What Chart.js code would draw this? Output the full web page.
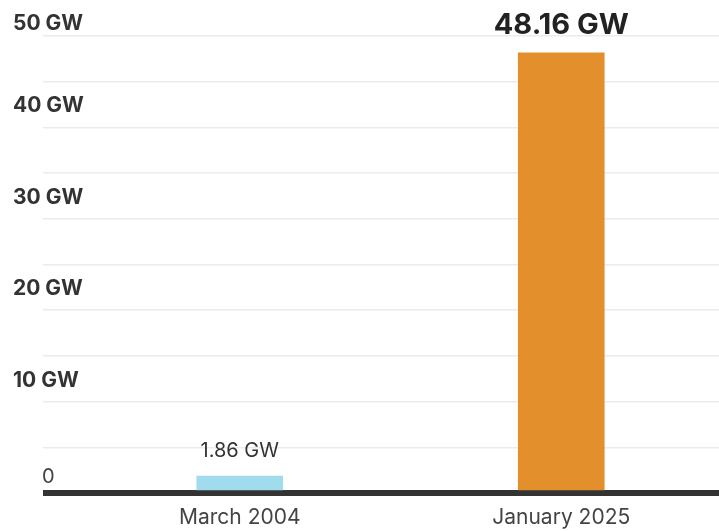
<!DOCTYPE html>
<html><head><meta charset="utf-8">
<script src="https://cdn.jsdelivr.net/npm/chart.js@4/dist/chart.umd.min.js"></script>
<style>html,body{margin:0;padding:0;background:#fff;overflow:hidden;width:719px;height:531px;}</style>
</head><body>
<canvas id="c" width="722" height="531"></canvas>
<script>
const categories = ['March 2004', 'January 2025'];
const capacityGW = [1.86, 48.16];
const valueLabels = ['1.86 GW', '48.16 GW'];
const yTickValues = [0, 10, 20, 30, 40, 50];
const yTickLabels = ['0', '10 GW', '20 GW', '30 GW', '40 GW', '50 GW'];

const FONT = 'Inter';

const labelPlugin = {
  id: 'customLabels',
  afterDraw(chart) {
    const ctx = chart.ctx;
    const ys = chart.scales.y;
    ctx.save();
    ctx.textBaseline = 'alphabetic';
    ctx.textAlign = 'left';
    yTickValues.forEach((v, i) => {
      let by, bx;
      if (v === 0) {
        ctx.font = '400 20px ' + FONT; ctx.fillStyle = '#444';
        by = ys.getPixelForValue(0) - 10; bx = 42;
      } else {
        ctx.font = '700 21px ' + FONT; ctx.fillStyle = '#333';
        by = Math.max(ys.getPixelForValue(v) - 15, 30); bx = 13;
      }
      ctx.fillText(yTickLabels[i], bx, by);
    });
    const meta = chart.getDatasetMeta(0);
    ctx.textAlign = 'center';
    meta.data.forEach((bar, i) => {
      const big = i === 1;
      ctx.font = big ? ('700 29px ' + FONT) : ('400 20px ' + FONT);
      ctx.fillStyle = big ? '#222' : '#333';
      ctx.fillText(valueLabels[i], bar.x, bar.y - 19);
    });
    ctx.restore();
  }
};

new Chart(document.getElementById('c'), {
  type: 'bar',
  data: {
    labels: categories,
    datasets: [{
      data: capacityGW,
      backgroundColor: ['#a0dcee', '#e38f2c'],
      borderWidth: 0,
      barThickness: 86
    }]
  },
  options: {
    responsive: false,
    animation: false,
    devicePixelRatio: 1,
    layout: { padding: { top: 36, right: 0, left: 0, bottom: 0 } },
    plugins: { legend: { display: false }, tooltip: { enabled: false } },
    scales: {
      x: {
        z: 1,
        grid: { display: false, drawTicks: false },
        border: { display: true, width: 6, color: '#333' },
        ticks: { color: '#444', font: { family: FONT, size: 21, weight: '400' }, padding: 12 },
        afterFit(scale) { scale.height = 38; }
      },
      y: {
        min: 0, max: 50,
        border: { display: false },
        ticks: { display: false, stepSize: 5 },
        grid: {
          drawTicks: true,
          tickLength: 36,
          color: (c) => c.tick && c.tick.value === 0 ? '#333' : '#ebebeb',
          lineWidth: (c) => c.tick && c.tick.value === 0 ? 6 : 1.5
        },
        afterFit(scale) { scale.width = 79; }
      }
    }
  },
  plugins: [labelPlugin]
});
</script>
</body></html>
